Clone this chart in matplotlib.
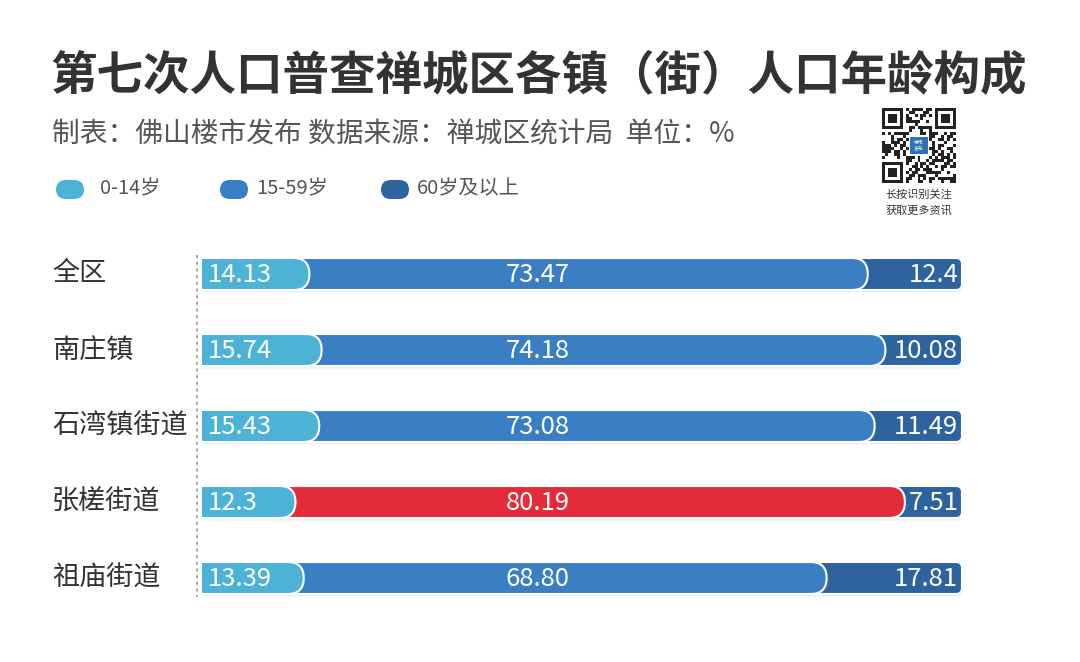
import numpy as np
import matplotlib
matplotlib.use("Agg")
import matplotlib.pyplot as plt
from matplotlib.patches import FancyBboxPatch, Rectangle

plt.rcParams['font.family'] = ['Noto Sans CJK SC', 'DejaVu Sans']

# --- 数据 ---
regions = ['全区', '南庄镇', '石湾镇街道', '张槎街道', '祖庙街道']
age_0_14 = [14.13, 15.74, 15.43, 12.3, 13.39]
age_15_59 = [73.47, 74.18, 73.08, 80.19, 68.80]
age_60_plus = [12.4, 10.08, 11.49, 7.51, 17.81]
mid_labels = ['73.47', '74.18', '73.08', '80.19', '68.80']
legend_names = ['0-14岁', '15-59岁', '60岁及以上']
highlight = '张槎街道'

c_light = '#4cb2d6'
c_mid = '#3a7fc4'
c_dark = '#2d64a0'
c_red = '#e32b3a'

W, H = 1080, 662
fig = plt.figure(figsize=(W / 100, H / 100), dpi=100)
fig.patch.set_facecolor('white')

def fx(px):
    return px / W

def fy(py):
    return 1 - py / H

# --- 标题 ---
fig.text(fx(50), fy(75), '第七次人口普查禅城区各镇（街）人口年龄构成',
         fontsize=33.5, fontweight='bold', color='#333333', va='center', ha='left')
fig.text(fx(52), fy(135), '制表：佛山楼市发布 数据来源：禅城区统计局  单位：%',
         fontsize=20, color='#555555', va='center', ha='left')

# --- 图例 ---
leg_x = [56, 220, 381]
leg_colors = [c_light, c_mid, c_dark]
for x0, col, name in zip(leg_x, leg_colors, legend_names):
    fig.patches.append(FancyBboxPatch((fx(x0), fy(199)), fx(28), 19 / H,
                                      boxstyle='round,pad=0,rounding_size=0.009',
                                      mutation_aspect=W / H,
                                      transform=fig.transFigure, facecolor=col,
                                      edgecolor='none'))
    fig.text(fx(x0 + 44 if name == '0-14岁' else x0 + 36), fy(189), name,
             fontsize=14.5, color='#555555', va='center', ha='left')

# --- 条形图 ---
px_per_unit = 760 / 100
bar_h = 32 / px_per_unit
top_px, bot_px = 240, 612
ax = fig.add_axes([fx(202), fy(bot_px), fx(760), (bot_px - top_px) / H])
y0 = -(274 - top_px) / px_per_unit
ax.set_xlim(0, 100)
ax.set_ylim(y0 + (bot_px - top_px) / px_per_unit, y0)
ax.axis('off')

r_in = bar_h / 2
for i, name in enumerate(regions):
    yc = i * 10
    a, b, c = age_0_14[i], age_15_59[i], age_60_plus[i]
    total = a + b + c
    mid_col = c_red if name == highlight else c_mid
    # 阴影
    ax.add_patch(FancyBboxPatch((-5, yc - bar_h / 2 + 0.35), total + 5.2, bar_h,
                                boxstyle='round,pad=0,rounding_size=0.9',
                                facecolor='#000000', alpha=0.06, edgecolor='none', zorder=1))
    layers = [(total, c_dark, 0.8), (a + b, mid_col, r_in), (a, c_light, r_in)]
    for k, (end, col, rr) in enumerate(layers):
        ax.add_patch(FancyBboxPatch((-5, yc - bar_h / 2), end + 5, bar_h,
                                    boxstyle=f'round,pad=0,rounding_size={rr}',
                                    facecolor=col, edgecolor='white', linewidth=1.5,
                                    zorder=2 + k))
    ax.text(0.8, yc + 0.1, f'{a:g}', color='white', fontsize=18.5,
            va='center', ha='left', zorder=10)
    ax.text(44.2, yc + 0.1, mid_labels[i], color='white', fontsize=18.5,
            va='center', ha='center', zorder=10)
    ax.text(99.5, yc + 0.1, f'{c:g}', color='white', fontsize=18.5,
            va='center', ha='right', zorder=10)
    fig.text(fx(52), fy(274 + i * 76), name, fontsize=19.5, color='#333333',
             va='center', ha='left')

# 左侧虚线
ax.plot([-0.66, -0.66], [y0 + 15 / px_per_unit, y0 + 357 / px_per_unit],
        color='#999999', linestyle=(0, (2, 2)), linewidth=1.2, clip_on=False)

# --- 二维码（示意） ---
qax = fig.add_axes([fx(882), fy(183), fx(74), 75 / H])
qax.set_xlim(0, 25)
qax.set_ylim(25, 0)
qax.axis('off')
bits = np.unpackbits(np.frombuffer(('佛山楼市发布长按识别关注获取更多资讯' * 4).encode('utf-8'),
                                   dtype=np.uint8))[:625].reshape(25, 25)
for r in range(25):
    for cc in range(25):
        in_finder = (r < 8 and cc < 8) or (r < 8 and cc > 16) or (r > 16 and cc < 8)
        if not in_finder and bits[r, cc]:
            qax.add_patch(Rectangle((cc, r), 1, 1, facecolor='#222222', edgecolor='none'))
for (fr, fc) in [(0, 0), (0, 18), (18, 0)]:
    qax.add_patch(Rectangle((fc, fr), 7, 7, facecolor='#222222', edgecolor='none'))
    qax.add_patch(Rectangle((fc + 1, fr + 1), 5, 5, facecolor='white', edgecolor='none'))
    qax.add_patch(Rectangle((fc + 2, fr + 2), 3, 3, facecolor='#222222', edgecolor='none'))
qax.add_patch(Rectangle((9, 9), 7, 7, facecolor='white', edgecolor='none'))
qax.add_patch(Rectangle((9.6, 9.6), 5.8, 5.8, facecolor='#2f6fb5', edgecolor='none'))
qax.text(12.5, 12.5, '楼市\n发布', fontsize=3.5, color='white', ha='center', va='center',
         linespacing=1.0)
fig.text(fx(919), fy(195), '长按识别关注', fontsize=8, color='#333333', ha='center', va='center')
fig.text(fx(919), fy(210), '获取更多资讯', fontsize=8, color='#333333', ha='center', va='center')

fig.savefig('out.png', dpi=100, facecolor='white')
